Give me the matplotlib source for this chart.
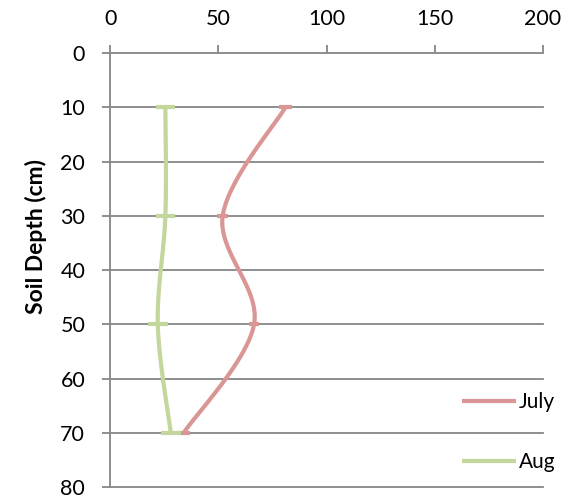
import numpy as np
import matplotlib
matplotlib.use("Agg")
import matplotlib.pyplot as plt

plt.rcParams['font.family'] = ['Lato', 'DejaVu Sans']

depth = [10, 30, 50, 70]
july = [81, 52, 66.5, 34]
july_err = [3, 2.5, 2.5, 3]
aug = [25.5, 25.5, 22, 28]
aug_err = [4.5, 4.5, 4.5, 4.5]

JULY_COLOR = '#D99694'
AUG_COLOR = '#C3D69B'
GRID = '#868686'


# Excel-like smoothed line: Catmull-Rom through the points
def smooth(xs, ys, n=40):
    p = np.column_stack([xs, ys]).astype(float)
    p = np.vstack([p[0], p, p[-1]])
    out = []
    for i in range(1, len(p) - 2):
        p0, p1, p2, p3 = p[i - 1], p[i], p[i + 1], p[i + 2]
        t = np.linspace(0, 1, n)[:, None]
        seg = 0.5 * ((2 * p1) + (-p0 + p2) * t
                     + (2 * p0 - 5 * p1 + 4 * p2 - p3) * t ** 2
                     + (-p0 + 3 * p1 - 3 * p2 + p3) * t ** 3)
        out.append(seg)
    out = np.vstack(out)
    return out[:, 0], out[:, 1]


fig = plt.figure(figsize=(5.8, 5.0), dpi=100)
ax = fig.add_axes([0.19, 0.026, 0.746, 0.868])

# x scaled so the curve is smoothed in roughly pixel space
for vals, errs, col, name in [(july, july_err, JULY_COLOR, 'July'),
                              (aug, aug_err, AUG_COLOR, 'Aug')]:
    sx, sy = smooth(np.array(vals) * 2.165 / 5.43, depth)
    ax.plot(sx * 5.43 / 2.165, sy, color=col, lw=3, solid_capstyle='butt',
            label=name, zorder=3)
    ax.errorbar(vals, depth, xerr=errs, fmt='none', ecolor=col,
                elinewidth=3, capsize=0, zorder=3)

ax.set_xlim(0, 200)
ax.set_ylim(80, 0)
ax.set_xticks([0, 50, 100, 150, 200])
ax.set_yticks(range(0, 90, 10))
ax.xaxis.tick_top()
for g in range(10, 90, 10):
    ax.axhline(g, color=GRID, lw=1.3, zorder=1, clip_on=False)

for s in ['right', 'bottom']:
    ax.spines[s].set_visible(False)
for s in ['left', 'top']:
    ax.spines[s].set_color(GRID)
    ax.spines[s].set_linewidth(1.3)

ax.tick_params(axis='x', direction='out', length=6, width=1.3, color=GRID,
               labelsize=15.5, pad=11)
ax.tick_params(axis='y', direction='out', length=6, width=1.3, color=GRID,
               labelsize=15.5, pad=12)
fig.text(36 / 580, 1 - 237 / 500, 'Soil Depth (cm)', rotation=90,
         fontsize=16.5, fontweight='bold', ha='center', va='center')

fig.legend(loc='center left', bbox_to_anchor=(462 / 580, 1 - 432 / 500),
           frameon=False, borderpad=0, borderaxespad=0,
           fontsize=15, handlelength=2.6, handletextpad=0.15, labelspacing=1.9)

fig.savefig('out.png', dpi=100)
